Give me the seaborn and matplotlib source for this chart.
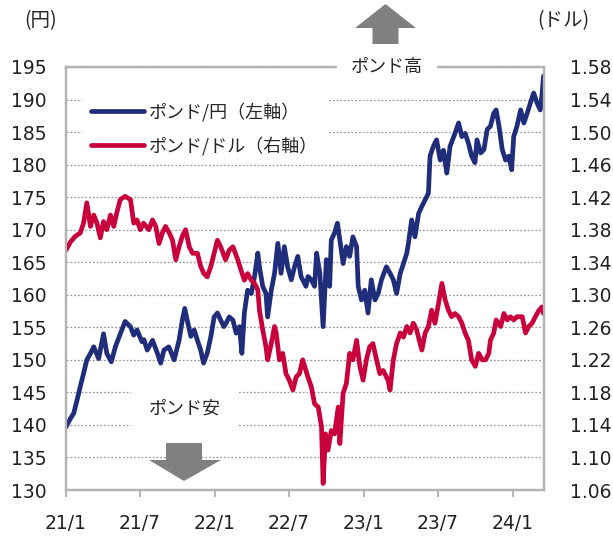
import pandas as pd
import numpy as np
import matplotlib
matplotlib.use('Agg')
import matplotlib.pyplot as plt
from matplotlib.patches import Polygon
import seaborn as sns

# days counted from 2021-01-01
start = pd.Timestamp('2021-01-01')

jpy_day = [0, 11, 19, 27, 35, 43, 51, 60, 68, 80, 92, 100, 111, 121, 133, 145, 158, 166, 174, 186,
           191, 199, 212, 224, 232, 240, 252, 265, 277, 285, 291, 297, 306, 314, 322, 330, 337, 346,
           355, 363, 371, 379, 387, 392, 400, 409, 417, 425, 431, 437, 445, 454, 462, 470, 474, 482,
           490, 494, 503, 511, 519, 527, 535, 543, 552, 560, 568, 576, 588, 593, 601, 609, 614, 622,
           630, 638, 646, 650, 658, 665, 671, 679, 687, 695, 703, 712, 716, 724, 732, 740, 748, 757,
           765, 773, 785, 794, 802, 810, 819, 827, 835, 839, 847, 855, 864, 872, 880, 888, 892, 900,
           908, 917, 925, 933, 941, 953, 962, 970, 978, 986, 994, 1002, 1007, 1016, 1024, 1032, 1040,
           1048, 1054, 1061, 1069, 1077, 1085, 1092, 1097, 1105, 1114, 1122, 1130, 1138, 1146, 1154,
           1162, 1166, 1170]
gbpjpy = [139.7, 141.0, 141.8, 143.8, 145.9, 147.9, 150.0, 151.0, 152.0, 150.2, 154.0, 151.0, 149.7,
          152.0, 154.0, 155.9, 155.1, 153.8, 154.6, 152.8,
          153.1, 151.5, 153.0, 151.0, 149.5, 151.5, 152.0, 150.0, 153.0, 156.1, 157.9, 156.1, 153.6,
          154.6, 153.0, 151.5, 149.5, 151.0, 153.6, 156.6, 157.2, 156.1, 155.1,
          155.6, 156.6, 156.1, 154.1, 155.1, 151.0, 157.2, 160.7, 160.2, 162.8, 166.4, 164.3, 161.3,
          160.2, 156.6, 160.7, 163.3, 167.9, 163.3, 167.4, 164.3, 162.3, 164.3, 165.9, 162.8, 161.3,
          162.8, 162.3, 161.3, 166.4, 163.3, 155.1, 165.4, 161.3, 168.4, 169.5, 171.0, 168.4, 164.8,
          167.4, 165.9, 168.9, 167.4, 161.3, 159.2, 160.7, 157.2, 162.3, 159.2, 160.2, 162.3, 164.3,
          163.3, 162.3, 160.2, 163.3, 164.8, 166.4, 167.9, 171.5, 168.9, 172.5, 173.6, 174.6, 175.6,
          181.3, 182.8, 183.8, 180.7, 182.2, 178.7, 182.8, 184.8, 186.4, 184.3, 184.8, 183.3, 181.3,
          180.3, 183.8, 181.8, 182.3, 185.4, 185.9, 187.9, 188.4, 185.9, 182.3, 180.7, 181.3, 179.2,
          184.3, 185.9, 188.4, 186.4, 187.9, 189.5, 191.0, 189.5, 188.4, 190.5, 193.6]

usd_day = [0, 11, 23, 35, 43, 51, 60, 68, 76, 84, 92, 100, 109, 117, 125, 133, 145, 158, 166, 174,
           182, 190, 203, 212, 220, 228, 236, 244, 253, 261, 269, 277, 285, 293, 302, 310, 322, 330,
           338, 346, 355, 363, 371, 379, 391, 400, 409, 421, 429, 437, 445, 454, 462, 470, 474, 482,
           490, 494, 503, 511, 515, 523, 531, 539, 547, 556, 564, 572, 580, 592, 601, 609, 618, 626,
           630, 636, 642, 650, 658, 667, 671, 679, 687, 695, 703, 712, 720, 728, 736, 744, 752, 761,
           769, 777, 789, 794, 802, 810, 819, 827, 835, 843, 851, 859, 872, 880, 888, 896, 904, 913,
           921, 929, 937, 945, 953, 962, 970, 978, 986, 994, 1003, 1011, 1020, 1028, 1036, 1040, 1048,
           1054, 1065, 1073, 1081, 1089, 1097, 1105, 1118, 1126, 1134, 1142, 1150, 1159, 1166, 1170]
gbpusd = [1.355, 1.365, 1.372, 1.376, 1.388, 1.413, 1.384, 1.398, 1.388, 1.370, 1.390, 1.380, 1.398,
          1.384, 1.402, 1.417, 1.421, 1.417, 1.388, 1.392,
          1.380, 1.388, 1.380, 1.392, 1.384, 1.363, 1.376, 1.384, 1.376, 1.367, 1.343, 1.359, 1.372,
          1.380, 1.359, 1.351, 1.351, 1.335, 1.326, 1.322, 1.335, 1.351, 1.367, 1.359, 1.343,
          1.355, 1.359, 1.343, 1.330, 1.318, 1.326, 1.318, 1.314, 1.306, 1.281, 1.257, 1.236, 1.220,
          1.240, 1.261, 1.253, 1.220, 1.228, 1.203, 1.195, 1.183, 1.199, 1.203, 1.220, 1.200,
          1.187, 1.166, 1.162, 1.138, 1.068, 1.129, 1.109, 1.133, 1.129, 1.162, 1.117, 1.179, 1.191,
          1.228, 1.220, 1.244, 1.212, 1.195, 1.220, 1.236, 1.240, 1.220, 1.203, 1.207, 1.195,
          1.183, 1.220, 1.240, 1.253, 1.248, 1.261, 1.253, 1.265, 1.257, 1.232, 1.253, 1.261, 1.281,
          1.265, 1.290, 1.314, 1.294, 1.281, 1.273, 1.277, 1.273, 1.265, 1.253, 1.244, 1.220,
          1.212, 1.228, 1.220, 1.220, 1.228, 1.244, 1.253, 1.269, 1.261, 1.277, 1.269, 1.273, 1.269,
          1.273, 1.273, 1.253, 1.261, 1.265, 1.273, 1.281, 1.285, 1.277]

left_ticks = list(range(130, 196, 5))
right_ticks = [1.06, 1.10, 1.14, 1.18, 1.22, 1.26, 1.30, 1.34, 1.38, 1.42, 1.46, 1.50, 1.54, 1.58]
x_ticks = ['2021-01-01', '2021-07-01', '2022-01-01', '2022-07-01', '2023-01-01', '2023-07-01', '2024-01-01']
x_labels = ['21/1', '21/7', '22/1', '22/7', '23/1', '23/7', '24/1']

BLUE = '#1F2D7B'
RED = '#C8003C'
GRAY = '#b3b3b3'
W, H = 613, 544

jpy_df = pd.DataFrame({'date': start + pd.to_timedelta(jpy_day, unit='D'), 'rate': gbpjpy})
usd_df = pd.DataFrame({'date': start + pd.to_timedelta(usd_day, unit='D'), 'rate': gbpusd})

sns.set_theme(style='white')
plt.rcParams['font.family'] = ['DejaVu Sans', 'Noto Sans CJK JP']
jp = ['Noto Sans CJK JP', 'DejaVu Sans']

fig, ax = plt.subplots(figsize=(W / 100, H / 100), dpi=100)
fig.subplots_adjust(left=66 / W, right=543.5 / W, top=1 - 67 / H, bottom=1 - 490 / H)
ax2 = ax.twinx()

sns.lineplot(data=jpy_df, x='date', y='rate', ax=ax, color=BLUE, lw=3.4,
             label='ポンド/円（左軸）', legend=False)
sns.lineplot(data=usd_df, x='date', y='rate', ax=ax2, color=RED, lw=3.4,
             label='ポンド/ドル（右軸）', legend=False)

ax.set_xlim(start, start + pd.Timedelta(days=1170))
ax.set_ylim(130, 195)
ax.set_yticks(left_ticks)
ax2.set_ylim(1.06, 1.58)
ax2.set_yticks(right_ticks)
ax2.set_yticklabels([f'{v:.2f}' for v in right_ticks])
ax.set_xticks(pd.to_datetime(x_ticks))
ax.set_xticklabels(x_labels)
for a in (ax, ax2):
    a.set_xlabel('')
    a.set_ylabel('')
    for s in a.spines.values():
        s.set_color(GRAY)
        s.set_linewidth(1.6)

ax.grid(axis='y', color='#9a9a9a', linestyle=(0, (1.5, 1.5)), lw=0.9)
ax.tick_params(axis='x', bottom=True, length=5, width=1.4, color=GRAY, direction='out',
               pad=12, labelsize=13.5, labelcolor='#222222')
ax.tick_params(axis='y', left=False, length=0, pad=14, labelsize=13.5, labelcolor='#222222')
ax2.tick_params(axis='y', right=False, length=0, pad=19, labelsize=13.5, labelcolor='#222222')

h1, l1 = ax.get_legend_handles_labels()
h2, l2 = ax2.get_legend_handles_labels()
leg = ax2.legend(h1 + h2, l1 + l2, loc='upper left', bbox_to_anchor=(0.015, 0.958),
                 frameon=True, facecolor='white', edgecolor='none', framealpha=1,
                 prop={'family': jp, 'size': 13}, handlelength=2.9, handletextpad=0.3,
                 labelspacing=0.8, borderpad=0.5)
leg.set_zorder(10)


def fx(px, py):
    return px / W, 1 - py / H


# labels and arrows
fig.text(*fx(41, 21), '(円)', ha='center', va='center', fontsize=14, family=jp)
fig.text(*fx(563, 21), '(ドル)', ha='center', va='center', fontsize=14, family=jp)
fig.text(*fx(387, 67), 'ポンド高', ha='center', va='center', fontsize=13, family=jp,
         bbox=dict(boxstyle='square,pad=0.75', fc='white', ec='none'))
fig.text(*fx(185, 409), 'ポンド安', ha='center', va='center', fontsize=13, family=jp,
         bbox=dict(boxstyle='square,pad=1.0', fc='white', ec='none'))

up = [(385.5, 4), (416, 28), (398.5, 28), (398.5, 46), (372.5, 46), (372.5, 28), (355, 28)]
down = [(166, 443), (202, 443), (202, 460), (221, 460), (184, 481), (149, 460), (166, 460)]
for pts in (up, down):
    fig.add_artist(Polygon([fx(x, y) for x, y in pts], closed=True, fc='#808080', ec='none',
                           transform=fig.transFigure))

fig.savefig('out.png', dpi=100)
